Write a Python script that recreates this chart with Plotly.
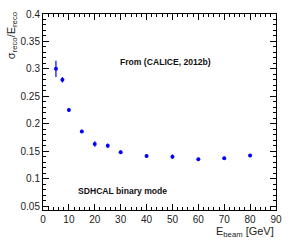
import plotly.graph_objects as go

energy = [5, 7.5, 10, 15, 20, 25, 30, 40, 50, 60, 70, 80]
resolution = [0.300, 0.280, 0.225, 0.186, 0.163, 0.160, 0.148, 0.141, 0.140, 0.135, 0.137, 0.142]
res_err = [0.015, 0.005, 0.003, 0.003, 0.005, 0.004, 0.003, 0.003, 0.004, 0.002, 0.003, 0.003]

x_ticks = [0, 10, 20, 30, 40, 50, 60, 70, 80, 90]
y_ticks = [0.05, 0.1, 0.15, 0.2, 0.25, 0.3, 0.35, 0.4]
y_tick_labels = ["0.05", "0.1", "0.15", "0.2", "0.25", "0.3", "0.35", "0.4"]

font_family = "Liberation Sans, Arial, sans-serif"

fig = go.Figure()
fig.add_trace(go.Scatter(
    x=energy, y=resolution, mode="markers",
    marker=dict(color="#0000ff", size=4, symbol="circle"),
    error_y=dict(type="data", array=res_err, color="#0000ff", thickness=1.2, width=0),
    showlegend=False,
))

axis_common = dict(
    showgrid=False, zeroline=False, showline=True, linecolor="black", linewidth=1,
    mirror="ticks", ticks="inside", ticklen=6, tickcolor="black", tickwidth=1,
    tickfont=dict(family=font_family, size=10, color="#222"),
    automargin=False,
)

fig.update_xaxes(
    range=[0, 90], tickvals=x_ticks,
    minor=dict(ticks="inside", ticklen=3, dtick=2, tickcolor="black", showgrid=False),
    **axis_common,
)
fig.update_yaxes(
    range=[0.0427, 0.4], tickvals=y_ticks, ticktext=y_tick_labels,
    minor=dict(ticks="inside", ticklen=3, dtick=0.01, tick0=0, tickcolor="black", showgrid=False),
    **axis_common,
)

fig.add_annotation(
    text="σ<sub>reco</sub>/E<sub>reco</sub>", textangle=-90,
    xref="paper", yref="paper", x=-0.135, y=1.02, xanchor="center", yanchor="top",
    showarrow=False, font=dict(family=font_family, size=11, color="#222"),
)
fig.add_annotation(
    text="E<sub>beam</sub> [GeV]",
    xref="paper", yref="paper", x=1.0, y=-0.11, xanchor="right", yanchor="middle",
    showarrow=False, font=dict(family=font_family, size=11, color="#222"),
)
fig.add_annotation(
    text="<b>From (CALICE, 2012b)</b>", x=29.0, y=0.313, xref="x", yref="y",
    xanchor="left", yanchor="middle", showarrow=False,
    font=dict(family=font_family, size=8.6, color="#111"),
)
fig.add_annotation(
    text="<b>SDHCAL binary mode</b>", x=12.8, y=0.0773, xref="x", yref="y",
    xanchor="left", yanchor="middle", showarrow=False,
    font=dict(family=font_family, size=8.6, color="#111"),
)

fig.update_layout(
    width=291, height=246,
    margin=dict(l=43, r=15, t=14, b=36),
    paper_bgcolor="white", plot_bgcolor="white",
)

fig.write_html("out.html", config={"displayModeBar": False},
               post_script="document.body.style.margin='0';")
